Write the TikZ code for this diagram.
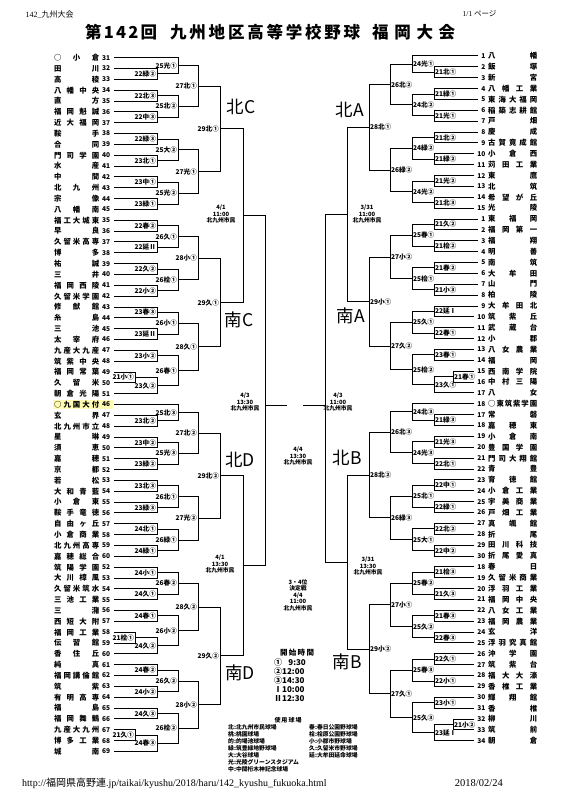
\documentclass[tikz,border=0pt]{standalone}
\usepackage{fontspec}
\setmainfont{Noto Sans CJK JP}
\newfontfamily\timesfont{Liberation Serif}
\usetikzlibrary{calc,positioning}

\newcommand\spreadtext[2]{\makebox[#1][s]{\spaceskip=0pt plus 1fil\relax\ignorespaces #2}}
% match on the left: upper, lower, x of the bar, label, name of the winner point
\newcommand\lmatch[5]{%
  \path (#3,0) coordinate (vx);
  \draw[bline] (#1) -- (#1 -| vx) -- (#2 -| vx) -- (#2);
  \coordinate (#5) at ($(#1 -| vx)!.5!(#2 -| vx)$);
  \node[mlabel, anchor=east] (#5lab) at ([xshift=-0.6pt]#5) {#4};}
% match on the right
\newcommand\rmatch[5]{%
  \path (#3,0) coordinate (vx);
  \draw[bline] (#1) -- (#1 -| vx) -- (#2 -| vx) -- (#2);
  \coordinate (#5) at ($(#1 -| vx)!.5!(#2 -| vx)$);
  \node[mlabel, anchor=west] (#5lab) at ([xshift=0.6pt]#5) {#4};}

\begin{document}
\begin{tikzpicture}[x=1pt, y=-1pt,
  bline/.style={line width=1pt},
  tname/.style={font=\bfseries\fontsize{7.4}{8}\selectfont, inner sep=0pt, anchor=west},
  tnum/.style={font=\bfseries\fontsize{6.6}{7}\selectfont, inner sep=0.3pt},
  mlabel/.style={font=\bfseries\fontsize{6.6}{7}\selectfont, inner sep=0.3pt},
  dlabel/.style={font=\bfseries\fontsize{5.8}{6.6}\selectfont, align=center, inner sep=0pt},
  zone/.style={font=\fontsize{17.5}{18}\selectfont, inner sep=0pt},
  legend/.style={font=\bfseries\fontsize{5.8}{7}\selectfont, align=left, inner sep=0pt, anchor=north west}]
\useasboundingbox (0,0) rectangle (560,800);

% header
\node[anchor=west, font=\fontsize{8}{9}\selectfont] (head) at (22,15) {{\timesfont 142\_}九州大会};
\node[anchor=east, font=\fontsize{7.5}{9}\selectfont] (page) at (500,14) {{\timesfont 1/1 }ページ};
\node[anchor=west, font=\bfseries\fontsize{16.5}{18}\selectfont, inner sep=0pt] (t1) at (85,32) {\spreadtext{72pt}{第 1 4 2 回}};
\node[anchor=west, font=\bfseries\fontsize{16.5}{18}\selectfont, inner sep=0pt] (t2) at (170,32) {\spreadtext{190pt}{九 州 地 区 高 等 学 校 野 球}};
\node[anchor=west, font=\bfseries\fontsize{16.5}{18}\selectfont, inner sep=0pt] (t3) at (372,32) {\spreadtext{83pt}{福 岡 大 会}};

% left teams
\fill[yellow!30] (53,400) rectangle (113,409.3);
\foreach \nm/\no [count=\i] in {○ 小 倉/31, 田 川/32, 高 稜/33, 八 幡 中 央/34, 直 方/35, 福 岡 魁 誠/36,
  近 大 福 岡/37, 鞍 手/38, 合 同/39, 門 司 学 園/40, 水 産/41, 中 間/42, 北 九 州/43, 宗 像/44,
  八 幡 南/45, 福 工 大 城 東/35, 早 良/36, 久 留 米 高 専/37, 博 多/38, 祐 誠/39, 三 井/40,
  福 岡 西 陵/41, 久 留 米 学 園/42, 修 猷 館/43, 糸 島/44, 三 池/45, 太 宰 府/46, 九 産 大 九 産/47,
  筑 紫 中 央/48, 福 岡 常 葉/49, 久 留 米/50, 朝 倉 光 陽/51, ○ 九 国 大 付/46, 玄 界/47,
  北 九 州 市 立/48, 星 琳/49, 須 恵/50, 嘉 穂/51, 京 都/52, 若 松/53, 大 和 青 藍/54, 小 倉 東/55,
  鞍 手 竜 徳/56, 自 由 ヶ 丘/57, 小 倉 商 業/58, 北 九 州 高 専/59, 嘉 穂 総 合/60, 筑 陽 学 園/52,
  大 川 樟 風/53, 久 留 米 筑 水/54, 三 池 工 業/55, 三 潴/56, 西 短 大 附/57, 福 岡 工 業/58,
  伝 習 館/59, 香 住 丘/60, 純 真/61, 福 岡 講 倫 館/62, 筑 紫/63, 有 明 高 専/64, 福 島/65,
  福 岡 舞 鶴/66, 九 産 大 九 州/67, 博 多 工 業/68, 城 南/69}{
  \node[tname] (ln\i) at (54,{57.7+(\i-1)*10.84}) {\spreadtext{45pt}{\nm}};
  \node[tnum, anchor=west] (lno\i) at (101.5,{57.7+(\i-1)*10.84}) {\no};
  \coordinate (L\i) at ([xshift=3.2pt]lno\i.east);
}

% right teams
\foreach \nm/\no [count=\i] in {八 幡/1, 飯 塚/2, 新 宮/3, 八 幡 工 業/4, 東 海 大 福 岡/5, 稲 築 志 耕 館/6,
  戸 畑/7, 慶 成/8, 古 賀 竟 成 館/9, 小 倉 西/10, 苅 田 工 業/11, 東 鷹/12, 北 筑/13, 希 望 が 丘/14,
  光 陵/15, 東 福 岡/1, 福 岡 第 一/2, 福 翔/3, 明 善/4, 南 筑/5, 大 牟 田/6, 山 門/7, 柏 陵/8,
  大 牟 田 北/9, 筑 紫 丘/10, 武 蔵 台/11, 小 郡/12, 八 女 農 業/13, 福 岡/14, 西 南 学 院/15,
  中 村 三 陽/16, 八 女/17, ○ 東 筑 紫 学 園/18, 常 磐/17, 嘉 穂 東/18, 小 倉 南/19, 豊 国 学 園/20,
  門 司 大 翔 館/21, 青 豊/22, 育 徳 館/23, 小 倉 工 業/24, 宇 美 商 業/25, 戸 畑 工 業/26, 真 颯 館/27,
  折 尾/28, 田 川 科 技/29, 折 尾 愛 真/30, 春 日/18, 久 留 米 商 業/19, 浮 羽 工 業/20, 福 岡 中 央/21,
  八 女 工 業/22, 福 岡 農 業/23, 玄 洋/24, 浮 羽 究 真 館/25, 沖 学 園/26, 筑 紫 台/27, 福 大 大 濠/28,
  香 椎 工 業/29, 輝 翔 館/30, 香 椎/31, 柳 川/32, 筑 前/33, 朝 倉/34}{
  \node[tname] (rn\i) at (488,{56+(\i-1)*10.87}) {\spreadtext{49pt}{\nm}};
  \node[tnum, anchor=east] (rno\i) at (486,{56+(\i-1)*10.87}) {\no};
  \coordinate (R\i) at ([xshift=-2.5pt]rno\i.west);
}

% left: kita C
\lmatch{L2}{L3}{157}{22緑②}{a1}
\lmatch{L1}{a1}{178}{25光①}{a2}
\lmatch{L4}{L5}{157}{22北③}{a3}
\lmatch{L6}{L7}{157}{22中③}{a4}
\lmatch{a3}{a4}{178}{25北②}{a5}
\lmatch{a2}{a5}{198}{27北①}{a6}
\lmatch{L8}{L9}{157}{22緑③}{a7}
\lmatch{L10}{L11}{157}{23北①}{a8}
\lmatch{a7}{a8}{178}{25大②}{a9}
\lmatch{L12}{L13}{157}{23中①}{a10}
\lmatch{L14}{L15}{157}{23緑①}{a11}
\lmatch{a10}{a11}{178}{25光②}{a12}
\lmatch{a9}{a12}{198}{27光①}{a13}
\lmatch{a6}{a13}{220}{29北①}{a14}
% left: minami C
\lmatch{L16}{L17}{157}{22春②}{b1}
\lmatch{L18}{L19}{157}{22延Ⅱ}{b2}
\lmatch{b1}{b2}{178}{26久①}{b3}
\lmatch{L20}{L21}{157}{22久②}{b4}
\lmatch{L22}{L23}{157}{22小②}{b5}
\lmatch{b4}{b5}{178}{26桧①}{b6}
\lmatch{b3}{b6}{198}{28小①}{b7}
\lmatch{L24}{L25}{157}{23春③}{b8}
\lmatch{L26}{L27}{157}{23延Ⅱ}{b9}
\lmatch{b8}{b9}{178}{26小①}{b10}
\lmatch{L28}{L29}{157}{23小②}{b11}
\lmatch{L30}{L31}{135}{21小①}{b12}
\lmatch{b12}{L32}{157}{23久②}{b13}
\lmatch{b11}{b13}{178}{26春①}{b14}
\lmatch{b10}{b14}{198}{28久①}{b15}
\lmatch{b7}{b15}{220}{29久①}{b16}
% left: kita D
\lmatch{L34}{L35}{157}{23北②}{c1}
\lmatch{L33}{c1}{178}{25北③}{c2}
\lmatch{L36}{L37}{157}{23中②}{c3}
\lmatch{L38}{L39}{157}{23緑②}{c4}
\lmatch{c3}{c4}{178}{25光③}{c5}
\lmatch{c2}{c5}{198}{27北②}{c6}
\lmatch{L40}{L41}{157}{23北③}{c7}
\lmatch{L42}{L43}{157}{23緑③}{c8}
\lmatch{c7}{c8}{178}{26北①}{c9}
\lmatch{L44}{L45}{157}{24北①}{c10}
\lmatch{L46}{L47}{157}{24緑①}{c11}
\lmatch{c10}{c11}{178}{26緑①}{c12}
\lmatch{c9}{c12}{198}{27光②}{c13}
\lmatch{c6}{c13}{220}{29北②}{c14}
% left: minami D
\lmatch{L48}{L49}{157}{24小①}{d1}
\lmatch{L50}{L51}{157}{24久①}{d2}
\lmatch{d1}{d2}{178}{26春②}{d3}
\lmatch{L52}{L53}{157}{24春①}{d4}
\lmatch{L54}{L55}{135}{21桧①}{d5}
\lmatch{d5}{L56}{157}{24久②}{d6}
\lmatch{d4}{d6}{178}{26小②}{d7}
\lmatch{d3}{d7}{198}{28久②}{d8}
\lmatch{L57}{L58}{157}{24春②}{d9}
\lmatch{L59}{L60}{157}{24小②}{d10}
\lmatch{d9}{d10}{178}{26久②}{d11}
\lmatch{L61}{L62}{157}{24久③}{d12}
\lmatch{L63}{L64}{135}{21久①}{d13}
\lmatch{d13}{L65}{157}{24春③}{d14}
\lmatch{d12}{d14}{178}{26桧②}{d15}
\lmatch{d11}{d15}{198}{28小②}{d16}
\lmatch{d8}{d16}{220}{29久②}{d17}

% right: kita A
\rmatch{R2}{R3}{434}{21北①}{e1}
\rmatch{R1}{e1}{412}{24光①}{e2}
\rmatch{R4}{R5}{434}{21緑①}{e3}
\rmatch{R6}{R7}{434}{21光①}{e4}
\rmatch{e3}{e4}{412}{24北②}{e5}
\rmatch{e2}{e5}{390}{26北②}{e6}
\rmatch{R8}{R9}{434}{21北②}{e7}
\rmatch{R10}{R11}{434}{21緑②}{e8}
\rmatch{e7}{e8}{412}{24緑②}{e9}
\rmatch{R12}{R13}{434}{21光②}{e10}
\rmatch{R14}{R15}{434}{21北③}{e11}
\rmatch{e10}{e11}{412}{24光②}{e12}
\rmatch{e9}{e12}{390}{26緑②}{e13}
\rmatch{e6}{e13}{369}{28北①}{e14}
% right: minami A
\rmatch{R16}{R17}{434}{21久②}{g1}
\rmatch{R18}{R19}{434}{21桧②}{g2}
\rmatch{g1}{g2}{412}{25春①}{g3}
\rmatch{R20}{R21}{434}{21春②}{g4}
\rmatch{R22}{R23}{434}{21小③}{g5}
\rmatch{g4}{g5}{412}{25桧①}{g6}
\rmatch{g3}{g6}{390}{27小②}{g7}
\rmatch{R24}{R25}{434}{22延Ⅰ}{g8}
\rmatch{R26}{R27}{434}{22春①}{g9}
\rmatch{g8}{g9}{412}{25久①}{g10}
\rmatch{R28}{R29}{434}{23春①}{g11}
\rmatch{R30}{R31}{453}{21春①}{g12}
\rmatch{g12}{R32}{434}{23久①}{g13}
\rmatch{g11}{g13}{412}{25桧②}{g14}
\rmatch{g10}{g14}{390}{27久②}{g15}
\rmatch{g7}{g15}{369}{29小①}{g16}
% right: kita B
\rmatch{R34}{R35}{434}{21緑③}{h1}
\rmatch{R33}{h1}{412}{24北③}{h2}
\rmatch{R36}{R37}{434}{21光③}{h3}
\rmatch{R38}{R39}{434}{22北①}{h4}
\rmatch{h3}{h4}{412}{24光③}{h5}
\rmatch{h2}{h5}{390}{26北③}{h6}
\rmatch{R40}{R41}{434}{22中①}{h7}
\rmatch{R42}{R43}{434}{22緑①}{h8}
\rmatch{h7}{h8}{412}{25北①}{h9}
\rmatch{R44}{R45}{434}{22北②}{h10}
\rmatch{R46}{R47}{434}{22中②}{h11}
\rmatch{h10}{h11}{412}{25大①}{h12}
\rmatch{h9}{h12}{390}{26緑③}{h13}
\rmatch{h6}{h13}{369}{28北②}{h14}
% right: minami B
\rmatch{R48}{R49}{434}{21桧③}{k1}
\rmatch{R50}{R51}{434}{21久③}{k2}
\rmatch{k1}{k2}{412}{25春②}{k3}
\rmatch{R52}{R53}{434}{21春③}{k4}
\rmatch{R54}{R55}{434}{22春③}{k5}
\rmatch{k4}{k5}{412}{25久②}{k6}
\rmatch{k3}{k6}{390}{27小①}{k7}
\rmatch{R56}{R57}{434}{22久①}{k8}
\rmatch{R58}{R59}{434}{22小①}{k9}
\rmatch{k8}{k9}{412}{25春③}{k10}
\rmatch{R60}{R61}{434}{23小①}{k11}
\rmatch{R62}{R63}{453}{21小②}{k12}
\rmatch{k12}{R64}{434}{23延Ⅰ}{k13}
\rmatch{k11}{k13}{412}{25久③}{k14}
\rmatch{k10}{k14}{390}{27久①}{k15}
\rmatch{k7}{k15}{369}{29小②}{k16}

% semifinals and final
\lmatch{a14}{b16}{243}{}{s1}
\lmatch{c14}{d17}{243}{}{s2}
\lmatch{s1}{s2}{265}{}{s3}
\rmatch{e14}{g16}{347}{}{u1}
\rmatch{h14}{k16}{347}{}{u2}
\rmatch{u1}{u2}{325}{}{u3}
\coordinate (lfin) at (s3 |- 0,405);
\coordinate (rfin) at (u3 |- 0,405);
\draw[bline] (lfin) -- ++(22,0) coordinate (lfin2);
\draw[bline] (rfin) -- ++(-22,0) coordinate (rfin2);

% block names
\node[zone] (kc) at (241,107) {北C};
\node[zone] (mc) at (239,320) {南C};
\node[zone] (kd) at (240,460) {北D};
\node[zone] (md) at (240,673) {南D};
\node[zone] (ka) at (350,110) {北A};
\node[zone] (ma) at (351,316) {南A};
\node[zone] (kb) at (347,458) {北B};
\node[zone] (mb) at (347,662) {南B};

% dates
\node[dlabel] (dt1) at (221,214) {4/1\\11:00\\北九州市民};
\node[dlabel] (dt2) at (220,564) {4/1\\13:30\\北九州市民};
\node[dlabel] (dt3) at (245,402) {4/3\\13:30\\北九州市民};
\node[dlabel] (dt4) at (367,214) {3/31\\11:00\\北九州市民};
\node[dlabel] (dt5) at (368,566) {3/31\\13:30\\北九州市民};
\node[dlabel] (dt6) at (338,402) {4/3\\11:00\\北九州市民};
\node[dlabel] (dt7) at (298,456) {4/4\\13:30\\北九州市民};
\node[dlabel] (dt8) at (298,595) {3・4位\\決定戦\\4/4\\11:00\\北九州市民};

% start times
\node[font=\bfseries\fontsize{7.5}{8}\selectfont, inner sep=0pt] (kaishi) at (297,653) {\spreadtext{34pt}{開 始 時 間}};
\node[font=\bfseries\fontsize{8}{9.1}\selectfont, align=left, inner sep=0pt, anchor=north west] (jikan) at (274,658)
  {①\hphantom{1}\,9:30\\②12:00\\③14:30\\Ⅰ10:00\\Ⅱ12:30};

% grounds
\node[font=\bfseries\fontsize{6}{7}\selectfont, inner sep=0pt] (shiyo) at (288,720) {\spreadtext{27pt}{使 用 球 場}};
\node[legend] (leg1) at (228,724.5) {北:北九州市民球場\\桃:桃園球場\\的:的場池球場\\緑:筑豊緑地野球場\\大:大谷球場\\光:光陵グリーンスタジアム\\中:中間桁木神記念球場};
\node[legend] (leg2) at (309,724.5) {春:春日公園野球場\\桧:桧原公園野球場\\小:小郡市野球場\\久:久留米市野球場\\延:大牟田延命球場};

% footer
\node[anchor=west, font=\fontsize{10}{11}\selectfont, inner sep=0pt] (url) at (22,783)
  {{\timesfont http://}福岡県高野連{\timesfont .jp/taikai/kyushu/2018/haru/142\_kyushu\_fukuoka.html}};
\node[anchor=east, font=\timesfont\fontsize{10.5}{11}\selectfont, inner sep=0pt] (date) at (503,783) {2018/02/24};
\end{tikzpicture}
\end{document}
